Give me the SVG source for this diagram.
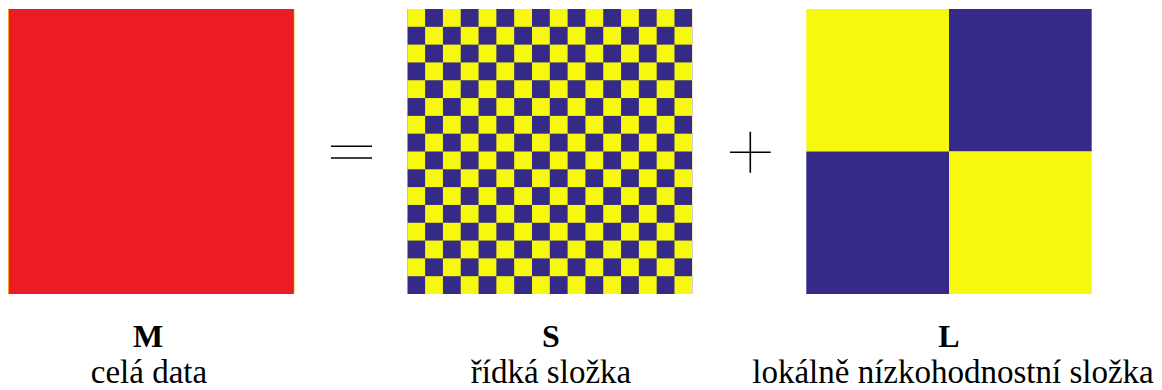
<svg xmlns="http://www.w3.org/2000/svg" width="1162" height="390" viewBox="0 0 1162 390">
  <style>
    .lbl { font-family: 'Liberation Serif', serif; font-weight: 700; font-size: 32px; text-anchor: middle; fill: #000; }
    .sub { font-family: 'Liberation Serif', serif; font-weight: 400; font-style: normal; font-size: 33px; text-anchor: middle; fill: #000; }
    .yel { fill: #F6F80D; }
    .blu { fill: #352A87; }
    .op { stroke: #000; stroke-width: 1.6; fill: none; }
  </style>
  <defs>
    <pattern id="chk" patternUnits="userSpaceOnUse" x="407.3" y="9" width="35.625" height="35.625">
      <rect width="35.625" height="35.625" class="blu"/>
      <rect x="0" y="0" width="17.8125" height="17.8125" class="yel"/>
      <rect x="17.8125" y="17.8125" width="17.8125" height="17.8125" class="yel"/>
    </pattern>
  </defs>
  <rect width="1162" height="390" fill="#fff"/>
  <g id="node-M">
    <rect x="8" y="9" width="286.5" height="285" fill="#F5C51E"/>
    <rect x="8.8" y="9" width="285" height="285" fill="#ED1C24"/>
    <text class="lbl" x="148" y="347">M</text>
    <text class="sub" x="149" y="383">celá data</text>
  </g>
  <g id="op-eq">
    <path class="op" d="M331 146.2H372M331 158H372"/>
  </g>
  <g id="node-S">
    <rect x="407.3" y="9" width="285" height="285" fill="url(#chk)"/>
    <text class="lbl" x="551" y="347">S</text>
    <text class="sub" x="551" y="383">řídká složka</text>
  </g>
  <g id="op-plus">
    <path class="op" d="M730 152.3H770.7M750.3 131.7V172.7"/>
  </g>
  <g id="node-L">
    <rect x="806.3" y="9" width="142.7" height="142.5" class="yel"/>
    <rect x="949" y="9" width="142.7" height="142.5" class="blu"/>
    <rect x="806.3" y="151.5" width="142.7" height="142.5" class="blu"/>
    <rect x="949" y="151.5" width="142.7" height="142.5" class="yel"/>
    <text class="lbl" x="949" y="347">L</text>
    <text class="sub" x="953" y="383">lokálně nízkohodnostní složka</text>
  </g>
  <g id="connectors"/>
</svg>
